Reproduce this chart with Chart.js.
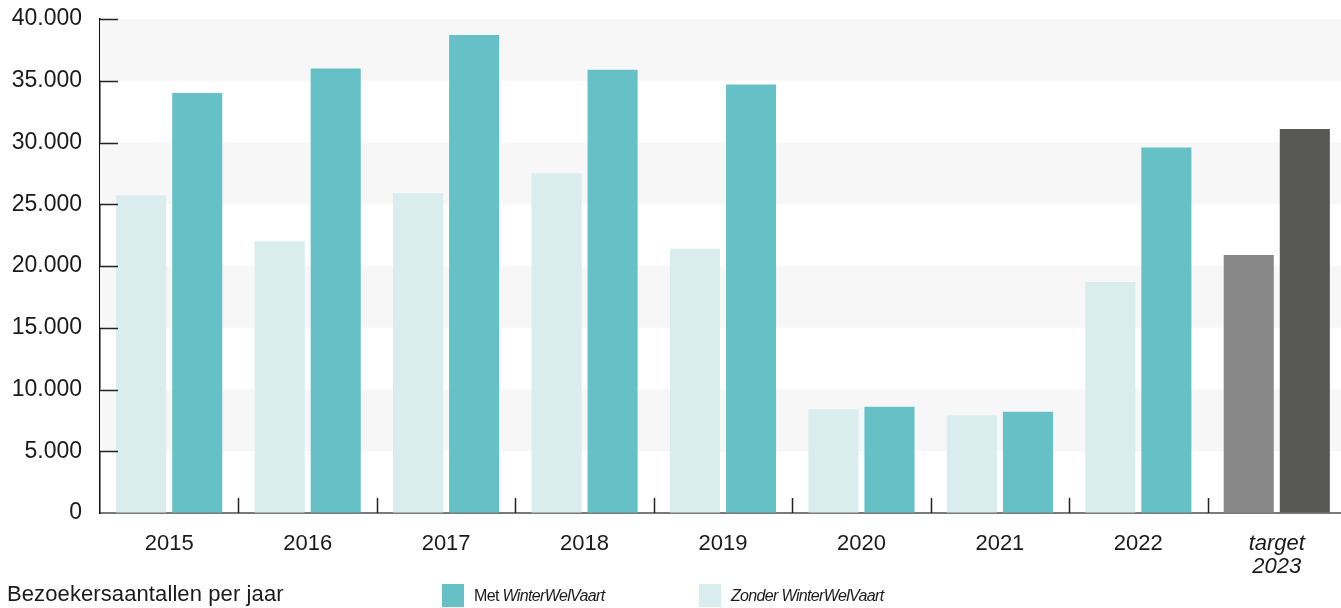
<!DOCTYPE html>
<html><head><meta charset="utf-8">
<script src="https://cdn.jsdelivr.net/npm/chart.js@4/dist/chart.umd.min.js"></script>
<style>
html,body{margin:0;padding:0;background:#fff;overflow:hidden;}
#wrap{position:relative;width:1341px;height:608px;font-family:"Liberation Sans",Arial,sans-serif;color:#1a1a1a;overflow:hidden;}
canvas{position:absolute;left:0;top:0;}
.title{position:absolute;left:7px;top:581px;font-size:22px;line-height:26px;white-space:nowrap;letter-spacing:0.1px;}
.leg{position:absolute;top:584px;font-size:16px;line-height:23px;display:flex;align-items:center;white-space:nowrap;letter-spacing:-0.65px;}
.sw{display:inline-block;width:22px;height:23px;margin-right:10px;}
</style></head><body>
<div id="wrap">
<canvas id="c" width="1346" height="608"></canvas>
<div class="title">Bezoekersaantallen per jaar</div>
<div class="leg" style="left:442px"><span class="sw" style="background:#65c1c5"></span><span>Met <i>WinterWelVaart</i></span></div>
<div class="leg" style="left:699px"><span class="sw" style="background:#d9ecee"></span><span><i>Zonder</i> <i>WinterWelVaart</i></span></div>
</div>
<script>
const categories = ['2015','2016','2017','2018','2019','2020','2021','2022',['target','2023']];
const zonderWWV = [25700,22000,25900,27500,21400,8400,7900,18700,20900];
const metWWV    = [34000,36000,38700,35900,34700,8600,8200,29600,31100];
const yTickValues = [0,5000,10000,15000,20000,25000,30000,35000,40000];

const lightColors = categories.map((c,i)=> i===categories.length-1 ? '#878787' : '#d9ecee');
const darkColors  = categories.map((c,i)=> i===categories.length-1 ? '#575756' : '#65c1c5');

function fmt(v){ return String(v).replace(/\B(?=(\d{3})+(?!\d))/g,'.'); }

const bandPlugin = {
  id:'bands',
  beforeDatasetsDraw(chart){
    const {ctx, chartArea:a, scales:{y}} = chart;
    ctx.save();
    ctx.fillStyle = '#f7f7f7';
    for (let i=0;i<yTickValues.length-1;i++){
      if (i%2===1){
        const t = y.getPixelForValue(yTickValues[i+1]);
        const b = y.getPixelForValue(yTickValues[i]);
        ctx.fillRect(a.left, t, a.right-a.left, b-t);
      }
    }
    ctx.restore();
  }
};
const tickPlugin = {
  id:'innerTicks',
  afterDraw(chart){
    const {ctx, chartArea:a, scales:{x,y}} = chart;
    ctx.save();
    ctx.strokeStyle = '#222';
    ctx.lineWidth = 1.5;
    ctx.beginPath();
    yTickValues.forEach(v=>{
      if (v===0) return;
      const p = Math.round(y.getPixelForValue(v))+0.5;
      ctx.moveTo(a.left, p); ctx.lineTo(a.left+18, p);
    });
    for (let i=1;i<categories.length;i++){
      const p = Math.round((x.getPixelForValue(i-1)+x.getPixelForValue(i))/2)+0.5;
      ctx.moveTo(p, a.bottom); ctx.lineTo(p, a.bottom-15);
    }
    ctx.stroke();
    ctx.restore();
  }
};

new Chart(document.getElementById('c'), {
  type:'bar',
  data:{
    labels: categories,
    datasets:[
      {label:'Zonder WinterWelVaart', data: zonderWWV, backgroundColor: lightColors, borderWidth:0},
      {label:'Met WinterWelVaart', data: metWWV, backgroundColor: darkColors, borderWidth:0}
    ]
  },
  options:{
    responsive:false,
    animation:false,
    devicePixelRatio:1,
    categoryPercentage:0.81,
    barPercentage:0.893,
    layout:{padding:{top:19,right:0,left:0,bottom:0}},
    plugins:{legend:{display:false}, tooltip:{enabled:false}},
    scales:{
      x:{
        afterFit(s){ s.height = 95; s.paddingLeft = 0; s.paddingRight = 0; },
        grid:{display:true, drawOnChartArea:false, drawTicks:false},
        border:{display:true, color:'#7a7a7a', width:2},
        ticks:{
          padding:19,
          color:'#1a1a1a',
          maxRotation:0,
          font:(ctx)=> ({family:'"Liberation Sans", Arial, sans-serif', size:22, lineHeight:1.05, style: ctx.index===categories.length-1 ? 'italic':'normal'})
        }
      },
      y:{
        min:0, max:40000,
        afterFit(s){ s.width = 100; s.paddingTop = 0; s.paddingBottom = 0; },
        afterBuildTicks(s){ s.ticks = yTickValues.map(v=>({value:v})); },
        grid:{display:true, drawOnChartArea:false, drawTicks:false},
        border:{display:true, color:'#111', width:1.5},
        ticks:{
          padding:18,
          color:'#1a1a1a',
          font:{family:'"Liberation Sans", Arial, sans-serif', size:23},
          callback:(v)=>fmt(v)
        }
      }
    }
  },
  plugins:[bandPlugin, tickPlugin]
});
</script>
</body></html>
